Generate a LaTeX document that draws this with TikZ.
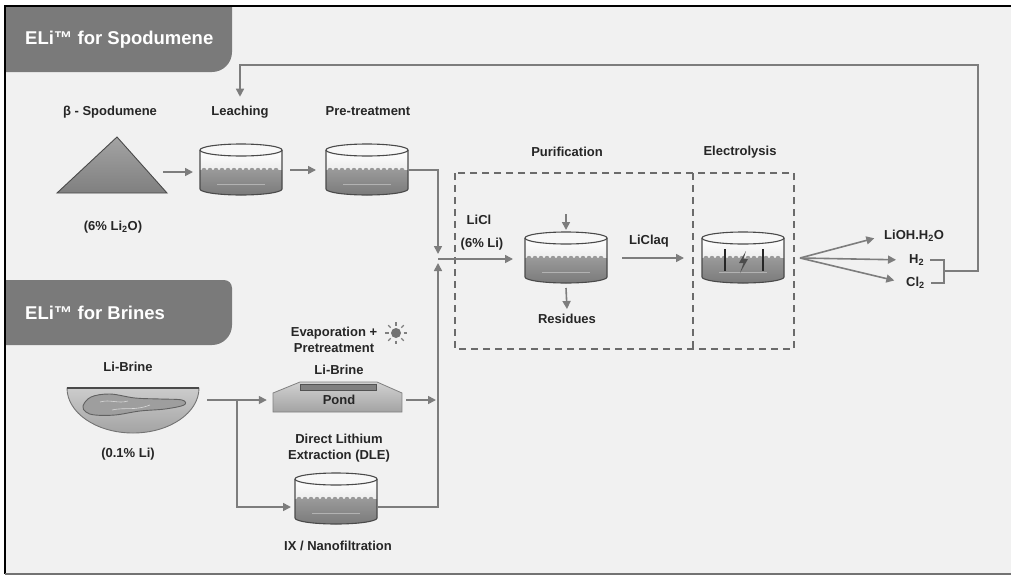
\documentclass[tikz,border=0pt]{standalone}
\usepackage{fontspec}
\setmainfont{Liberation Sans}
\usetikzlibrary{arrows.meta,calc}

\definecolor{bgc}{HTML}{F1F1F1}
\definecolor{tabc}{HTML}{7A7A7A}
\definecolor{linec}{HTML}{7D7D7D}
\definecolor{inkc}{HTML}{262626}
\definecolor{rimc}{HTML}{4A4A4A}
\definecolor{waterc}{HTML}{8E8E8E}

\tikzset{
  lbl/.style={font=\bfseries\fontsize{13}{16}\selectfont, text=inkc, inner sep=1pt, align=center},
  tabtxt/.style={font=\bfseries\fontsize{18.5}{22}\selectfont, text=white, anchor=west, inner sep=0pt},
  conn/.style={draw=linec, line width=1.6pt},
  arr/.style={conn, -{Triangle[length=8pt,width=8pt]}},
  tankbox/.style={minimum width=82pt, minimum height=52pt, inner sep=0pt, outer sep=0pt},
  zone/.style={draw=black!58, line width=1.4pt, dash pattern=on 7pt off 5pt},
}

% Open tank, rim centred at the scope origin (rim 82 wide, 39 deep)
\newcommand\drawtank{%
  \shade[top color=white, bottom color=black!16]
    (-41,0) -- (-41,39) arc[start angle=180,end angle=360,x radius=41pt,y radius=6pt] -- (41,0) -- cycle;
  \shade[top color=black!40, bottom color=black!52]
    (-41,20) -- (-41,39) arc[start angle=180,end angle=360,x radius=41pt,y radius=6pt] -- (41,20) -- cycle;
  \foreach \i in {-37,-31,...,35}
    \fill[black!40] (\i-2.5,20.3) arc[start angle=180,end angle=0,radius=2.5pt] -- cycle;
  \draw[black!30, line width=0.7pt] (-24,34) -- (24,34);
  \draw[rimc, line width=1.1pt]
    (-41,0) -- (-41,39) arc[start angle=180,end angle=360,x radius=41pt,y radius=6pt] -- (41,0);
  \draw[rimc, fill=white!97!black, line width=1.1pt] (0,0) ellipse[x radius=41pt, y radius=6pt];
}

\begin{document}
\begin{tikzpicture}[x=1pt,y=-1pt]
\useasboundingbox (0,0) rectangle (1011,576);
\fill[white] (0,0) rectangle (1011,576);
\fill[bgc] (5,6) rectangle (1011,574);
\draw[black, line width=2.6pt] (1011,6) -- (5,6) -- (5,574);
\draw[black!55, line width=1.5pt] (5,574) -- (1011,574);

% section tabs
\fill[tabc] (6,7) -- (232,7) -- (232,52) arc[start angle=0,end angle=-90,radius=20pt] -- (6,72) -- cycle;
\node[tabtxt] (tabspod) at (25,40) {ELi™ for Spodumene};
\fill[tabc] (6,280) -- (224,280) arc[start angle=90,end angle=0,radius=8pt]
  -- (232,325) arc[start angle=0,end angle=-90,radius=20pt] -- (6,345) -- cycle;
\node[tabtxt] (tabbrine) at (25,313) {ELi™ for Brines};

% spodumene pile
\shade[top color=black!36, bottom color=black!50, draw=rimc, line width=0.9pt]
  (57,193) -- (117,137) -- (167,193) -- cycle;
\coordinate (pileR) at (163,172);

% tanks
\begin{scope}[shift={(241,150)}]\drawtank\end{scope}
\begin{scope}[shift={(367,150)}]\drawtank\end{scope}
\begin{scope}[shift={(566,238)}]\drawtank\end{scope}
\begin{scope}[shift={(743,238)}]\drawtank\end{scope}
\begin{scope}[shift={(336,479)}]\drawtank\end{scope}
\node[tankbox] (leach) at (241,170) {};
\node[tankbox] (pre)   at (367,170) {};
\node[tankbox] (purif) at (566,258) {};
\node[tankbox] (elec)  at (743,258) {};
\node[tankbox] (ix)    at (336,499) {};

% electrolysis cell: electrodes and spark
\draw[black!85, line width=2.4pt] (725,249) -- (725,271);
\draw[black!85, line width=2.4pt] (763,249) -- (763,271);
\fill[black!70] (746,251) -- (739,263) -- (743.5,263) -- (740,273) -- (748,259) -- (743.5,259) -- cycle;

% dashed process zones
\draw[zone] (455,173) rectangle (794,349);
\draw[zone] (693,173) -- (693,349);

% brine lake
\shade[top color=black!20, bottom color=black!36, draw=black!55, line width=0.9pt]
  (67,388) arc[start angle=180,end angle=360,x radius=66pt,y radius=45pt] -- cycle;
\draw[rimc, line width=1.1pt] (67,388) -- (199,388);
\draw[black!62, fill=black!38, line width=0.9pt] plot[smooth cycle, tension=0.6] coordinates
  {(83,406) (91,397) (110,394) (135,398) (160,399) (182,400) (184,405) (165,409) (140,411) (115,415) (95,415) (86,412)};
\draw[white!85!black, line width=0.6pt] (100,402) .. controls (110,399) and (118,404) .. (128,401);
\draw[white!85!black, line width=0.6pt] (112,410) .. controls (125,407) and (135,411) .. (150,405);
\coordinate (lakeR) at (207,400);
\coordinate (bsplit) at (237,400);

% evaporation pond
\shade[top color=black!18, bottom color=black!36, draw=black!50, line width=0.8pt]
  (273,412) -- (273,393) -- (300,382) -- (377,382) -- (402,393) -- (402,412) -- cycle;
\draw[fill=black!50, draw=black!68, line width=0.8pt] (300,384) rectangle (376,390);
\node[minimum width=129pt, minimum height=24pt, inner sep=0pt] (pond) at (337.5,400) {};

% sun
\fill[black!55] (396,333) circle[radius=5pt];
\foreach \a in {0,45,...,315}
  \draw[black!50, line width=1.1pt] ($(396,333)+(\a:7.5pt)$) -- ($(396,333)+(\a:11pt)$);

% labels
\node[lbl] (spodlbl)   at (110,112) {β - Spodumene};
\node[lbl] (spodpct)   at (113,227) {(6\% Li\textsubscript{2}O)};
\node[lbl] (leachlbl)  at (240,112) {Leaching};
\node[lbl] (prelbl)    at (368,111) {Pre-treatment};
\node[lbl] (purlbl)    at (567,152) {Purification};
\node[lbl] (elelbl)    at (740,152) {Electrolysis};
\node[lbl] (licl)      at (479,220) {LiCl};
\node[lbl] (liclpct)   at (482,244) {(6\% Li)};
\node[lbl] (liclaq)    at (649,241) {LiClaq};
\node[lbl] (res)       at (567,319) {Residues};
\node[lbl, anchor=west] (lioh) at (883,236) {LiOH.H\textsubscript{2}O};
\node[lbl, anchor=west] (h2)   at (908,260) {H\textsubscript{2}};
\node[lbl, anchor=west] (cl2)  at (905,283) {Cl\textsubscript{2}};
\node[lbl] (brinelbl)  at (128,367) {Li-Brine};
\node[lbl] (brinepct)  at (128,454) {(0.1\% Li)};
\node[lbl] (evap)      at (334,340) {Evaporation +\\Pretreatment};
\node[lbl] (pondbrine) at (339,370) {Li-Brine};
\node[lbl] (pondlbl)   at (339,400) {Pond};
\node[lbl] (dle)       at (339,448) {Direct Lithium\\Extraction (DLE)};
\node[lbl] (ixlbl)     at (338,546) {IX / Nanofiltration};

% spodumene route
\draw[arr, shorten >=7pt] (pileR) -- (pileR -| leach.west);
\draw[arr, shorten <=8pt, shorten >=10pt] (leach.east) -- (pre.west);
\coordinate (jn) at (438,259);
\draw[arr] (pre.east) -| ([yshift=5pt]jn);

% brine routes
\draw[arr, shorten >=6pt] (lakeR) -- (pond.west);
\draw[arr, shorten >=4pt] (bsplit) |- ($(ix.west)+(0,8)$);
\draw[arr, shorten <=4pt, shorten >=2pt] (pond.east) -- (pond.east -| jn);
\draw[arr] ($(ix.east)+(0,8)$) -| ([yshift=-4pt]jn);

% purification and electrolysis
\draw[arr, shorten >=12pt] (jn) -- (jn -| purif.west);
\draw[arr] ([yshift=18pt]purif.north) -- ([yshift=2pt]purif.north);
\draw[arr] ([yshift=-4pt]purif.south) -- ([yshift=4pt]res.north);
\draw[arr, shorten <=15pt, shorten >=18pt] (purif.east) -- (elec.west);

% products
\coordinate (fan) at (800,258);
\draw[arr, shorten >=9pt]  (fan) -- (lioh.west);
\draw[arr, shorten >=12pt] (fan) -- (h2.west);
\draw[arr, shorten >=11pt] (fan) -- (cl2.west);

% H2 / Cl2 recycle back to leaching
\coordinate (bt) at (944,260);
\coordinate (bm) at (944,271);
\coordinate (fb) at (978,65);
\draw[conn, line width=1.3pt] ($(h2.east)+(5,0)$) -- (h2.east -| bt) -- (cl2.east -| bt) -- ($(cl2.east)+(5,0)$);
\draw[arr, line width=1.4pt] (bm) -| (fb) -| ([yshift=8pt]leachlbl.north);
\end{tikzpicture}
\end{document}
